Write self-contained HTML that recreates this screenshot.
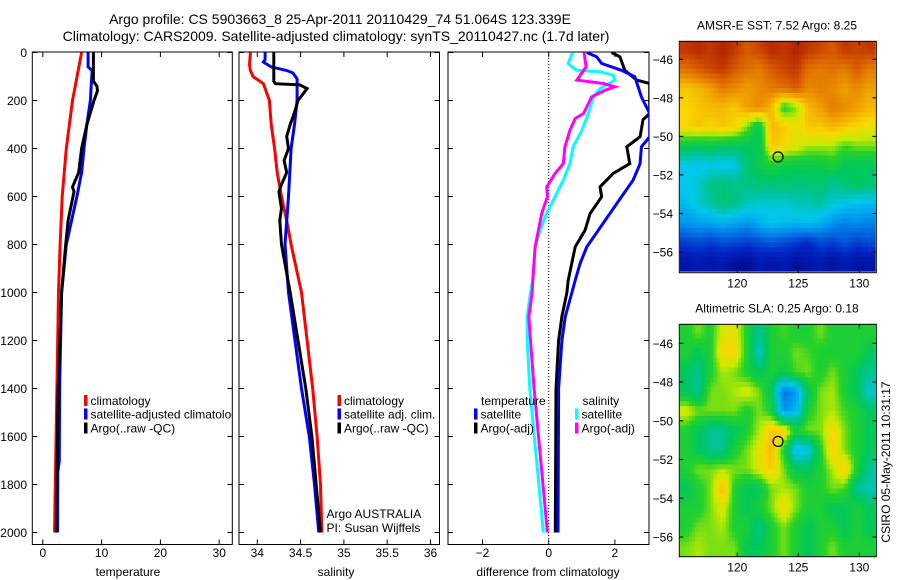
<!DOCTYPE html>
<html><head><meta charset="utf-8"><style>
body{margin:0;background:#fff;}
svg{display:block;font-family:"Liberation Sans",sans-serif;}
</style></head><body>
<svg id="c" width="900" height="580" viewBox="0 0 900 580">
<defs>
<clipPath id="cp1"><rect x="32.3" y="52" width="200" height="492.5"/></clipPath>
<clipPath id="cp2"><rect x="239" y="52" width="200.5" height="492.5"/></clipPath>
<clipPath id="cp3"><rect x="448" y="52" width="201" height="492.5"/></clipPath>
<clipPath id="cpm1"><rect x="679.3" y="41.3" width="197" height="231.4"/></clipPath>
<clipPath id="cpm2"><rect x="679.3" y="324.3" width="197" height="232.4"/></clipPath>
</defs>
<text x="340" y="24" font-size="14" text-anchor="middle">Argo profile: CS 5903663_8 25-Apr-2011 20110429_74 51.064S 123.339E</text>
<text x="336" y="41" font-size="14" text-anchor="middle">Climatology: CARS2009. Satellite-adjusted climatology: synTS_20110427.nc (1.7d later)</text>
<g id="g"></g>
</svg>
<script>
// ---------- data ----------
const tempDepthRed=[0,200,400,600,800,1000,1400,1700,1900,2000];
const tempRed=[6.6,5.05,4.0,3.3,2.95,2.67,2.4,2.2,2.05,2.0];
const tempDepthBlue=[0,60,75,150,200,300,400,500,600,800,1000,1400,1700,1750,2000];
const tempBlue=[7.7,7.7,8.4,8.2,8.1,7.5,7.0,6.6,5.8,4.0,3.2,2.86,2.8,2.55,2.5];
const tempDepthBlack=[0,120,140,160,200,300,400,500,560,580,700,800,1000,1400,2000];
const tempBlack=[8.6,8.6,9.2,9.3,8.7,7.5,6.6,6.1,5.05,5.3,4.3,3.9,3.2,2.6,2.3];

const salDepthRed=[0,50,75,100,130,200,300,400,500,600,700,800,1000,1400,1600,1800,2000];
const salRed=[33.92,33.91,33.92,33.95,34.07,34.14,34.16,34.2,34.23,34.28,34.34,34.39,34.51,34.64,34.69,34.73,34.745];
const salDepthBlue=[0,30,40,60,75,85,110,200,300,400,500,600,800,1000,1400,1600,1800,2000];
const salBlue=[34.09,34.09,34.07,34.16,34.34,34.41,34.46,34.46,34.43,34.39,34.375,34.36,34.32,34.36,34.51,34.6,34.66,34.71];
const salDepthBlack=[0,120,130,135,150,200,250,300,350,400,450,500,550,580,650,700,800,1000,1400,1600,1800,2000];
const salBlack=[34.19,34.19,34.21,34.49,34.575,34.47,34.43,34.38,34.34,34.36,34.31,34.34,34.28,34.25,34.28,34.26,34.28,34.38,34.56,34.63,34.68,34.73];

const dDepthTsat=[0,18,46,74,101,185,254,351,393,463,532,601,671,740,810,879,949,1000,1100,1200,1400,2000];
const dTsat=[1.15,1.45,1.6,2.2,2.6,2.8,3.05,3.05,2.8,2.76,2.55,2.2,1.85,1.5,1.15,0.95,0.8,0.7,0.5,0.4,0.3,0.28];
const dDepthTargo=[0,18,74,115,129,254,280,351,393,463,504,560,601,671,740,810,949,1000,1100,1200,1400,2000];
const dTargo=[1.9,2.15,2.3,2.66,3.05,3.05,2.85,2.76,2.36,2.45,1.95,1.55,1.6,1.25,1.1,0.8,0.59,0.55,0.4,0.3,0.22,0.2];
const dDepthSsat=[0,46,74,80,94,115,150,185,254,324,393,463,532,601,671,740,810,949,1000,1100,1200,1400,2000];
const dSsat=[0.72,0.59,0.85,1.55,1.95,2.0,1.55,1.35,1.2,1.0,0.74,0.64,0.44,0.19,-0.06,-0.26,-0.41,-0.48,-0.55,-0.65,-0.65,-0.57,-0.16];
const dDepthSargo=[0,32,60,115,129,143,157,185,254,275,324,393,463,504,560,601,671,810,949,1000,1100,1200,1400,2000];
const dSargo=[1.07,1.1,1.13,0.85,1.65,2.0,1.7,1.3,1.05,0.8,0.64,0.49,0.44,0.19,-0.06,-0.04,-0.21,-0.41,-0.48,-0.5,-0.6,-0.55,-0.44,-0.04];

const depthTicks=[0,200,400,600,800,1000,1200,1400,1600,1800,2000];
const tempTicks=[0,10,20,30];
const salTicks=[34,34.5,35,35.5,36];
const salTickLabels=["34","34.5","35","35.5","36"];
const diffTicks=[-2,0,2];

const sstGrid=[
[0.9,0.92,0.9,0.93,0.9,0.85,0.88,0.92,0.9,0.93,0.9,0.88,0.85,0.9,0.88,0.9],
[0.82,0.85,0.88,0.9,0.85,0.82,0.8,0.85,0.88,0.9,0.82,0.8,0.82,0.8,0.85,0.8],
[0.7,0.72,0.75,0.8,0.78,0.75,0.78,0.8,0.82,0.85,0.78,0.8,0.78,0.75,0.78,0.75],
[0.68,0.7,0.72,0.72,0.7,0.75,0.78,0.72,0.55,0.6,0.72,0.75,0.8,0.78,0.75,0.72],
[0.68,0.7,0.68,0.7,0.68,0.6,0.5,0.72,0.7,0.66,0.7,0.7,0.72,0.7,0.68,0.66],
[0.52,0.5,0.52,0.5,0.5,0.5,0.5,0.7,0.68,0.65,0.62,0.62,0.62,0.58,0.6,0.6],
[0.38,0.37,0.38,0.37,0.38,0.48,0.52,0.55,0.52,0.52,0.52,0.52,0.55,0.5,0.5,0.5],
[0.38,0.4,0.46,0.48,0.46,0.46,0.48,0.47,0.48,0.47,0.47,0.48,0.45,0.48,0.5,0.48],
[0.36,0.4,0.44,0.48,0.46,0.42,0.4,0.4,0.4,0.42,0.42,0.44,0.4,0.38,0.36,0.36],
[0.3,0.32,0.32,0.34,0.32,0.3,0.34,0.37,0.36,0.35,0.37,0.34,0.3,0.27,0.29,0.27],
[0.18,0.2,0.18,0.2,0.2,0.18,0.2,0.22,0.2,0.18,0.15,0.2,0.18,0.22,0.18,0.2],
[0.08,0.1,0.08,0.1,0.06,0.05,0.1,0.08,0.1,0.06,0.08,0.1,0.07,0.1,0.08,0.08]];
const slaGrid=[
[.55,.6,.55,.65,.66,.55,.45,.55,.58,.55,.55,.6,.55,.55,.55,.55],
[.55,.5,.55,.68,.68,.55,.4,.55,.55,.6,.58,.55,.55,.55,.55,.5],
[.5,.45,.55,.62,.6,.55,.5,.55,.52,.58,.6,.55,.6,.55,.5,.45],
[.5,.45,.6,.6,.62,.65,.6,.5,.25,.3,.5,.6,.62,.55,.5,.4],
[.65,.6,.6,.6,.6,.55,.6,.55,.3,.35,.55,.6,.62,.58,.55,.5],
[.55,.5,.45,.45,.5,.55,.62,.7,.7,.55,.6,.6,.68,.6,.55,.5],
[.55,.5,.45,.45,.55,.6,.65,.72,.55,.35,.38,.55,.7,.6,.55,.5],
[.55,.6,.6,.62,.6,.6,.65,.7,.6,.5,.5,.55,.62,.7,.55,.45],
[.5,.55,.6,.72,.55,.5,.5,.6,.62,.6,.55,.55,.6,.58,.45,.42],
[.55,.55,.6,.65,.55,.5,.55,.6,.68,.6,.55,.55,.5,.5,.55,.5],
[.55,.6,.6,.62,.55,.55,.45,.55,.6,.55,.5,.55,.55,.5,.55,.5],
[.6,.62,.6,.6,.6,.5,.5,.55,.6,.55,.5,.55,.6,.55,.55,.55]];
const lonTicks=[120,125,130];
const latTicks=[-46,-48,-50,-52,-54,-56];
const argoLon=123.339, argoLat=-51.064;

// ---------- helpers ----------
const NS="http://www.w3.org/2000/svg";
const G=document.getElementById('g');
function mk(tag,attrs,parent){const e=document.createElementNS(NS,tag);for(const k in attrs)e.setAttribute(k,attrs[k]);(parent||G).appendChild(e);return e;}
const yD=d=>52.5+d*0.24;
const BOT=544.5, TOP=52;
const P1={l:32.3,r:232.3,x:v=>42.8+(v)*5.88};
const P2={l:239,r:439.5,x:v=>257.3+(v-34)*86.6};
const P3={l:448,r:649,x:v=>548.7+v*33.1};

function frame(P,name,xt,xl){
  const r=mk('rect',{x:P.l,y:TOP,width:P.r-P.l,height:BOT-TOP,fill:'none',stroke:'#000','stroke-width':1});
  
  
  depthTicks.forEach(d=>{mk('line',{x1:P.l,x2:P.l+5,y1:yD(d),y2:yD(d),stroke:'#000'});mk('line',{x1:P.r,x2:P.r-5,y1:yD(d),y2:yD(d),stroke:'#000'});});
  xt.forEach((v,i)=>{const x=P.x(v);mk('line',{x1:x,x2:x,y1:BOT,y2:BOT-5,stroke:'#000'});mk('line',{x1:x,x2:x,y1:TOP,y2:TOP+5,stroke:'#000'});
    const t=mk('text',{x:x,y:557,'font-size':12,'text-anchor':'middle'});t.textContent=xl[i];
    
    });
}
function line(P,clip,depths,vals,color,name){
  const pts=depths.map((d,i)=>P.x(vals[i]).toFixed(1)+','+yD(d).toFixed(1)).join(' ');
  const e=mk('polyline',{points:pts,fill:'none',stroke:color,'stroke-width':3,'clip-path':'url(#'+clip+')','stroke-linejoin':'miter'});
  
  
}
function txt(x,y,s,name,extra){const t=mk('text',Object.assign({x:x,y:y,'font-size':12},extra||{}));t.textContent=s;
  
  return t;}
function legend(x,y,color,label,name,clip){
  const m=mk('rect',{x:x,y:y-10,width:3.5,height:11,fill:color});
  
  
  txt(x+6.5,y,label,name,clip?{'clip-path':'url(#'+clip+')'}:{});
}

depthTicks.forEach(d=>{txt(27,yD(d)+4.5,String(d),'y-tick-label',{'text-anchor':'end'});});

frame(P1,'temperature-panel',tempTicks,tempTicks.map(String));
frame(P2,'salinity-panel',salTicks,salTickLabels);
frame(P3,'difference-panel',diffTicks,diffTicks.map(v=>v<0?'\u2212'+(-v):String(v)));

const z=mk('line',{x1:P3.x(0),x2:P3.x(0),y1:TOP,y2:BOT,stroke:'#000','stroke-dasharray':'1,2'});



line(P1,'cp1',tempDepthRed,tempRed,'#ff0000','temp-climatology-line');
line(P1,'cp1',tempDepthBlue,tempBlue,'#0000ff','temp-satellite-line');
line(P1,'cp1',tempDepthBlack,tempBlack,'#000','temp-argo-line');
line(P2,'cp2',salDepthRed,salRed,'#ff0000','sal-climatology-line');
line(P2,'cp2',salDepthBlue,salBlue,'#0000ff','sal-satellite-line');
line(P2,'cp2',salDepthBlack,salBlack,'#000','sal-argo-line');
line(P3,'cp3',dDepthSsat,dSsat,'#00ffff','diff-sal-satellite-line');
line(P3,'cp3',dDepthSargo,dSargo,'#ff00ff','diff-sal-argo-line');
line(P3,'cp3',dDepthTargo,dTargo,'#000','diff-temp-argo-line');
line(P3,'cp3',dDepthTsat,dTsat,'#0000ff','diff-temp-satellite-line');

legend(84,405,'#ff0000','climatology','legend-climatology');
legend(84,418.5,'#0000ff','satellite-adjusted climatology','legend-satellite','cp1');
legend(84,432.5,'#000','Argo(..raw -QC)','legend-argo');
legend(337.5,405,'#ff0000','climatology','legend-sal-climatology');
legend(337.5,418.5,'#0000ff','satellite adj. clim.','legend-sal-satellite');
legend(337.5,432.5,'#000','Argo(..raw -QC)','legend-sal-argo');
txt(326.5,518,'Argo AUSTRALIA','argo-australia-label');
txt(326.5,532,'PI: Susan Wijffels','pi-label');
txt(481,405,'temperature','legend-temperature-heading');
legend(474,418.5,'#0000ff','satellite','legend-temp-satellite');
legend(474,432.5,'#000','Argo(-adj)','legend-temp-argo');
txt(582.5,405,'salinity','legend-salinity-heading');
legend(575,418.5,'#00ffff','satellite','legend-sal-sat');
legend(575,432.5,'#ff00ff','Argo(-adj)','legend-sal-argo-adj');

txt(128,576,'temperature','x-axis-title-temperature',{'text-anchor':'middle'});
txt(336,576,'salinity','x-axis-title-salinity',{'text-anchor':'middle'});
txt(548,576,'difference from climatology','x-axis-title-difference',{'text-anchor':'middle'});

// ---------- maps ----------
const cmapStops=[[0,0,0,130],[0.15,0,40,200],[0.3,0,150,240],[0.38,0,200,235],[0.44,0,195,160],[0.5,0,200,90],[0.57,40,210,40],[0.63,200,235,0],[0.68,250,215,0],[0.75,240,160,0],[0.85,215,90,0],[0.95,170,20,0],[1,140,0,0]];
function cmap(v){v=Math.max(0,Math.min(1,v));
  for(let i=1;i<cmapStops.length;i++){const a=cmapStops[i-1],b=cmapStops[i];
    if(v<=b[0]){const t=(v-a[0])/(b[0]-a[0]);return 'rgb('+[1,2,3].map(k=>Math.round(a[k]+(b[k]-a[k])*t)).join(',')+')';}}
  return 'rgb(140,0,0)';}
function sample(grid,fr,fc){
  const R=grid.length-1,C=grid[0].length-1;
  fr=Math.max(0,Math.min(R,fr));fc=Math.max(0,Math.min(C,fc));
  const r0=Math.floor(fr),c0=Math.floor(fc),r1=Math.min(R,r0+1),c1=Math.min(C,c0+1),tr=fr-r0,tc=fc-c0;
  return grid[r0][c0]*(1-tr)*(1-tc)+grid[r0][c1]*(1-tr)*tc+grid[r1][c0]*tr*(1-tc)+grid[r1][c1]*tr*tc;}
function map(top,bot,lat46,lat56,grid,name,title,clip){
  const L=679.3,R=876.3;
  const xL=lon=>737.3+(lon-120)*12.2;
  const yl=lat=>lat46+(-46-lat)*(lat56-lat46)/10;
  const g=mk('g',{'clip-path':'url(#'+clip+')'});
  
  
  const rows=grid.length, cols=grid[0].length, S=4;
  const lon0=115.3, lat0=-45;
  for(let ri=0;ri<rows*S;ri++)for(let ci=0;ci<cols*S;ci++){
    const v=sample(grid,(ri+0.5)/S-0.5,(ci+0.5)/S-0.5);
    const x0=xL(lon0+ci/S),x1=xL(lon0+(ci+1)/S),y0=yl(lat0-ri/S),y1=yl(lat0-(ri+1)/S);
    const c=mk('rect',{x:x0.toFixed(2),y:y0.toFixed(2),width:(x1-x0+0.4).toFixed(2),height:(y1-y0+0.4).toFixed(2),fill:cmap(v)},g);
    
    
  }
  mk('rect',{x:L,y:top,width:R-L,height:bot-top,fill:'none',stroke:'#000'});
  lonTicks.forEach(lo=>{const x=xL(lo);mk('line',{x1:x,x2:x,y1:top,y2:top+4,stroke:'#000'});mk('line',{x1:x,x2:x,y1:bot,y2:bot-4,stroke:'#000'});
    txt(x,bot+15,String(lo),name+'-lon-label',{'text-anchor':'middle'});});
  latTicks.forEach(la=>{const y=yl(la);mk('line',{x1:L,x2:L+4,y1:y,y2:y,stroke:'#000'});mk('line',{x1:R,x2:R-4,y1:y,y2:y,stroke:'#000'});
    txt(673,y+4.5,'\u2212'+(-la),name+'-lat-label',{'text-anchor':'end'});});
  const dot=mk('circle',{cx:xL(argoLon),cy:yl(argoLat),r:5,fill:'none',stroke:'#000','stroke-width':1.2});
  
  
  txt(777,top-12,title,name+'-title',{'text-anchor':'middle'});
}
map(41.3,272.7,59.3,252,sstGrid,'sst-map','AMSR-E SST: 7.52 Argo: 8.25','cpm1');
map(324.3,556.7,343.3,537,slaGrid,'sla-map','Altimetric SLA: 0.25 Argo: 0.18','cpm2');
txt(0,0,'CSIRO 05-May-2011 10:31:17','timestamp-label',{'text-anchor':'middle',transform:'translate(890,462) rotate(-90)'});
</script>
</body></html>
